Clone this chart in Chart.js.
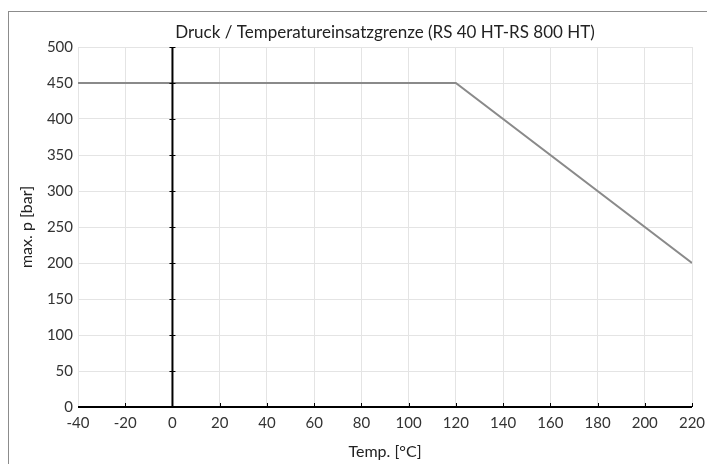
<!DOCTYPE html>
<html>
<head>
<meta charset="utf-8">
<script src="https://cdn.jsdelivr.net/npm/chart.js@4"></script>
<style>
  html, body { margin: 0; padding: 0; background: #fff; }
  #wrap { width: 707px; height: 464px; position: relative; }
</style>
</head>
<body>
<div id="wrap"><canvas id="myChart" width="707" height="464"></canvas></div>
<script>
const chartTitle = 'Druck / Temperatureinsatzgrenze (RS 40 HT-RS 800 HT)';
const xLabel = 'Temp. [°C]';
const yLabel = 'max. p [bar]';
const temps = [-40, 120, 220];
const pressures = [450, 450, 200];
const xRange = [-40, 220];
const yRange = [0, 500];
const xStep = 20;
const yStep = 50;

// frame around the chart plus black axes through zero
const axesPlugin = {
   id: 'axesPlugin',
   beforeDraw(chart) {
      const ctx = chart.ctx;
      ctx.save();
      ctx.strokeStyle = '#8c8c8c';
      ctx.lineWidth = 1;
      ctx.strokeRect(8.5, 11.5, 900, 900);
      ctx.restore();
   },
   afterDatasetsDraw(chart) {
      const ctx = chart.ctx;
      const x = chart.scales.x;
      const y = chart.scales.y;
      const x0 = x.getPixelForValue(0);
      const y0 = y.getPixelForValue(0);
      ctx.save();
      ctx.strokeStyle = '#000';
      ctx.lineWidth = 2;
      ctx.beginPath();
      ctx.moveTo(x0, y.getPixelForValue(yRange[1]));
      ctx.lineTo(x0, y0);
      ctx.moveTo(x.left, y0);
      ctx.lineTo(x.right, y0);
      ctx.stroke();
      ctx.lineWidth = 1;
      ctx.beginPath();
      for (let v = yRange[0] + yStep; v <= yRange[1]; v += yStep) {
         const py = Math.round(y.getPixelForValue(v)) + 0.5;
         ctx.moveTo(x0 - 3, py);
         ctx.lineTo(x0 + 3, py);
      }
      for (let v = xRange[0] + xStep; v <= xRange[1]; v += xStep) {
         const px = Math.round(x.getPixelForValue(v)) + 0.5;
         ctx.moveTo(px, y0);
         ctx.lineTo(px, y0 - 4);
      }
      ctx.stroke();
      ctx.restore();
   },
};

const ctx = document.getElementById('myChart').getContext('2d');
new Chart(ctx, {
   type: 'scatter',
   data: {
      datasets: [
         {
            data: temps.map((t, i) => ({ x: t, y: pressures[i] })),
            showLine: true,
            borderColor: '#8a8a8a',
            borderWidth: 2,
            pointRadius: 0,
            fill: false,
         },
      ],
   },
   plugins: [axesPlugin],
   options: {
      responsive: false,
      animation: false,
      layout: { padding: { left: 0, right: 15, top: 0, bottom: 0 } },
      plugins: {
         legend: { display: false },
         tooltip: { enabled: false },
         title: {
            display: true,
            text: chartTitle,
            fullSize: false,
            color: '#222',
            font: { family: 'Lato', size: 17, weight: 'normal', lineHeight: 1.2 },
            padding: { top: 22, bottom: 4.6 },
         },
      },
      scales: {
         x: {
            type: 'linear',
            min: xRange[0],
            max: xRange[1],
            ticks: {
               stepSize: xStep,
               color: '#333',
               font: { family: 'Lato', size: 15 },
               padding: 7,
               maxRotation: 0,
            },
            grid: { color: '#e4e4e4', drawTicks: false },
            border: { display: false },
            title: {
               display: true,
               text: xLabel,
               color: '#222',
               font: { family: 'Lato', size: 16, lineHeight: 1.2 },
               padding: { top: 0, bottom: 2.4 },
            },
            afterFit: (scale) => {
               scale.height = 57;
               scale.paddingRight = 0;
               scale.paddingLeft = 0;
            },
         },
         y: {
            type: 'linear',
            min: yRange[0],
            max: yRange[1],
            ticks: {
               stepSize: yStep,
               color: '#333',
               font: { family: 'Lato', size: 15 },
               padding: 5,
            },
            grid: { color: '#e4e4e4', drawTicks: false },
            border: { display: false },
            title: {
               display: true,
               text: yLabel,
               color: '#222',
               font: { family: 'Lato', size: 16, lineHeight: 1.2 },
               padding: { top: 17, bottom: 0 },
            },
            afterFit: (scale) => { scale.width = 78; },
         },
      },
   },
});
</script>
</body>
</html>
